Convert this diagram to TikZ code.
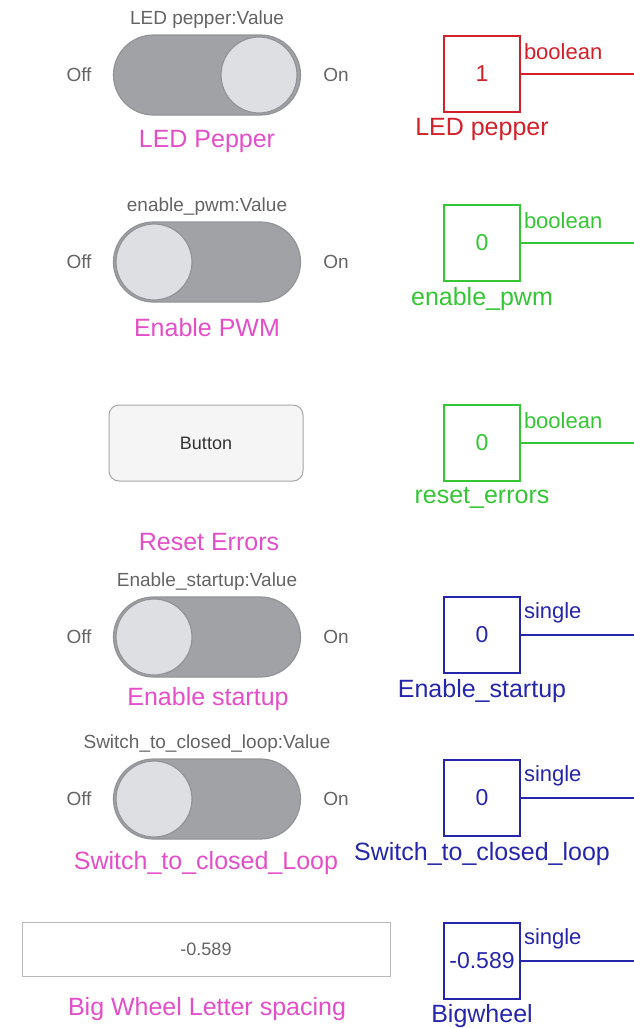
\documentclass[tikz,border=0pt]{standalone}
\usepackage{fontspec}
\setmainfont{Liberation Sans}
\usetikzlibrary{positioning}

\definecolor{pinklbl}{RGB}{228,78,200}
\definecolor{capgray}{RGB}{100,100,100}
\definecolor{pillgray}{RGB}{160,162,165}
\definecolor{pilledge}{RGB}{145,147,150}
\definecolor{knobgray}{RGB}{221,223,226}
\definecolor{sigred}{RGB}{212,32,42}
\definecolor{siggreen}{RGB}{52,198,52}
\definecolor{sigblue}{RGB}{38,38,172}

\begin{document}
\begin{tikzpicture}[
  x=1pt, y=-1pt,
  lbl/.style={text=pinklbl, font=\fontsize{25}{28}\selectfont},
  valcap/.style={text=capgray, font=\fontsize{19}{22}\selectfont},
  pill/.style={draw=pilledge, fill=pillgray, line width=1.2pt, minimum width=187pt, minimum height=80pt, rounded corners=40pt},
  knob/.style={circle, draw=pilledge, fill=knobgray, line width=1.2pt, minimum size=76pt},
  blk/.style={draw=#1, line width=1.6pt, minimum size=76pt, text=#1, font=\fontsize{23}{26}\selectfont},
  blkname/.style={text=#1, font=\fontsize{25}{28}\selectfont},
  dtype/.style={text=#1, font=\fontsize{22}{25}\selectfont, anchor=west, inner sep=1pt},
  sig/.style={draw=#1, line width=1.3pt}
]
\useasboundingbox (0,0) rectangle (634,1028);
\coordinate (rim) at (634,0);

% toggle switches
\node[pill] (sw1) at (207,75) {};
\node[knob] (k1) at (259,75) {};
\node[valcap, above=2pt of sw1] (c1) {LED pepper:Value};
\node[valcap] (off1) at (79,75) {Off};
\node[valcap] (on1) at (336,75) {On};
\node[lbl] (l1) at (207,141) {LED Pepper};

\node[pill] (sw2) at (207,262) {};
\node[knob] (k2) at (154,262) {};
\node[valcap, above=2pt of sw2] (c2) {enable\_pwm:Value};
\node[valcap] (off2) at (79,262) {Off};
\node[valcap] (on2) at (336,262) {On};
\node[lbl] (l2) at (207,328) {Enable PWM};

% push button
\node[draw=gray!70, fill=gray!8, line width=1pt, rounded corners=10pt, minimum width=194pt, minimum height=76pt,
  text=black!80, font=\fontsize{18}{21}\selectfont] (btn) at (206,443) {Button};
\node[lbl] (l3) at (209,542) {Reset Errors};

\node[pill] (sw3) at (207,637) {};
\node[knob] (k3) at (154,637) {};
\node[valcap, above=2pt of sw3] (c3) {Enable\_startup:Value};
\node[valcap] (off3) at (79,637) {Off};
\node[valcap] (on3) at (336,637) {On};
\node[lbl] (l4) at (208,699) {Enable startup};

\node[pill] (sw4) at (207,799) {};
\node[knob] (k4) at (154,799) {};
\node[valcap, above=2pt of sw4] (c4) {Switch\_to\_closed\_loop:Value};
\node[valcap] (off4) at (79,799) {Off};
\node[valcap] (on4) at (336,799) {On};
\node[lbl] (l5) at (206,863) {Switch\_to\_closed\_Loop};

% edit field
\node[draw=gray!55, line width=1pt, minimum width=368pt, minimum height=54pt,
  text=capgray, font=\fontsize{18}{21}\selectfont] (edit) at (206,949) {-0.589};
\node[lbl] (l6) at (207,1009) {Big Wheel Letter spacing};

% constant blocks
\node[blk=sigred] (b1) at (482,74) {1};
\node[blkname=sigred, below=2pt of b1] (n1) {LED pepper};
\node[blk=siggreen] (b2) at (482,243) {0};
\node[blkname=siggreen, below=2pt of b2] (n2) {enable\_pwm};
\node[blk=siggreen] (b3) at (482,443) {0};
\node[blkname=siggreen, below=2pt of b3] (n3) {reset\_errors};
\node[blk=sigblue] (b4) at (482,635) {0};
\node[blkname=sigblue, below=2pt of b4] (n4) {Enable\_startup};
\node[blk=sigblue] (b5) at (482,798) {0};
\node[blkname=sigblue, below=2pt of b5] (n5) {Switch\_to\_closed\_loop};
\node[blk=sigblue, inner sep=0pt] (b6) at (482,961) {-0.589};
\node[blkname=sigblue, below=1pt of b6] (n6) {Bigwheel};

\foreach \b/\col/\typ in {b1/sigred/boolean, b2/siggreen/boolean, b3/siggreen/boolean,
  b4/sigblue/single, b5/sigblue/single, b6/sigblue/single} {
  \coordinate (\b out) at (\b.east -| rim);
  \draw[sig=\col] (\b.east) -- (\b out);
  \node[dtype=\col] at ([xshift=2pt,yshift=22pt]\b.east) {\typ};
}
\end{tikzpicture}
\end{document}
